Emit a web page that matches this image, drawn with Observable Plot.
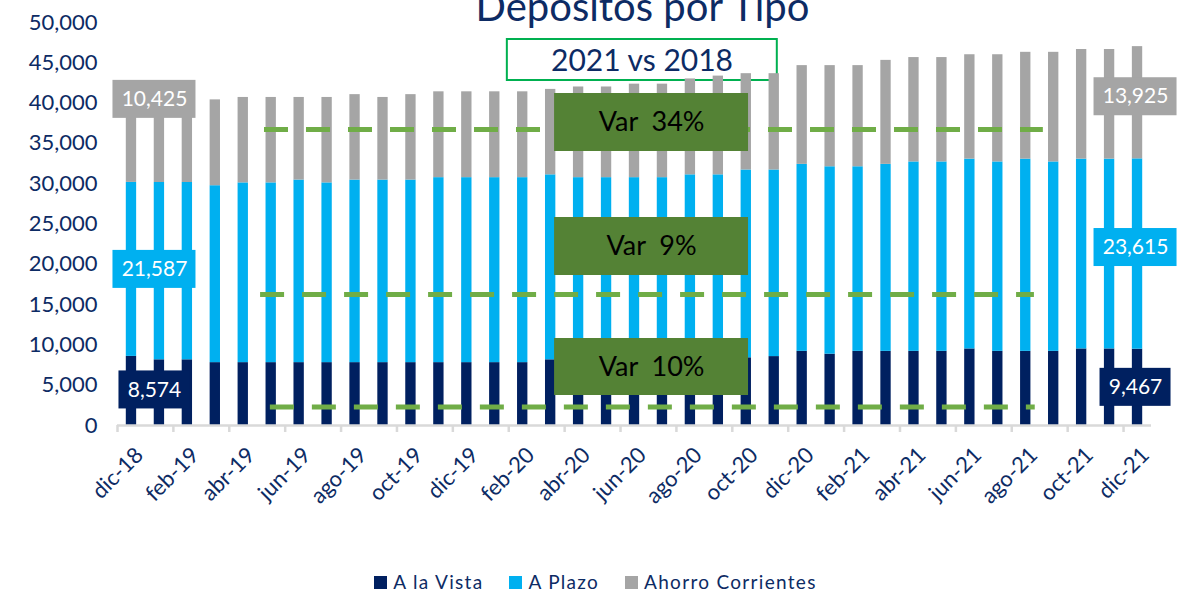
<!DOCTYPE html>
<html><head><meta charset="utf-8">
<script src="https://cdn.jsdelivr.net/npm/d3@7"></script>
<script src="https://cdn.jsdelivr.net/npm/@observablehq/plot@0.6"></script>
<style>
body{margin:0;background:#fff;font-family:Lato,sans-serif;}
#wrap{position:relative;width:1191px;height:599px;overflow:hidden;background:#fff;}
#legend{position:absolute;left:0;top:572px;width:1191px;display:flex;justify-content:center;align-items:center;font-size:19px;letter-spacing:1.3px;color:#0D2B64;line-height:20px;}
.item{display:flex;align-items:center;margin:0 13px;}
.sw{width:13px;height:13px;margin-right:6px;}
</style></head><body><div id="wrap"></div>
<script>
const months = ["dic-18","ene-19","feb-19","mar-19","abr-19","may-19","jun-19","jul-19","ago-19","sep-19","oct-19","nov-19","dic-19","ene-20","feb-20","mar-20","abr-20","may-20","jun-20","jul-20","ago-20","sep-20","oct-20","nov-20","dic-20","ene-21","feb-21","mar-21","abr-21","may-21","jun-21","jul-21","ago-21","sep-21","oct-21","nov-21","dic-21"];
const seriesNames = ["A la Vista","A Plazo","Ahorro Corrientes"];
const aLaVista = [8574,8150,8150,7800,7800,7800,7800,7800,7800,7800,7800,7800,7800,7800,7800,8150,8150,8200,8200,8300,8300,8400,8400,8550,9200,8850,9200,9200,9200,9200,9500,9200,9200,9200,9500,9500,9467];
const aPlazo = [21587,22000,22000,21950,22300,22300,22650,22300,22650,22650,22650,22950,22950,22950,22950,22950,22600,22550,22550,22450,22800,22700,23300,23150,23200,23250,22900,23200,23500,23500,23550,23500,23850,23500,23550,23550,23615];
const ahorroCorrientes = [10425,10450,10450,10650,10600,10600,10250,10600,10600,10250,10600,10650,10650,10650,10650,10600,11250,11250,11600,11600,11900,12250,11950,11950,12250,12550,12550,12900,12950,12950,12950,13300,13250,13600,13600,13600,13925];
const yTicks = [0,5000,10000,15000,20000,25000,30000,35000,40000,45000,50000];
const variations = ["Var \u00A034%","Var \u00A09%","Var \u00A010%"];
const varLevels = [36725, 16253, 2295];
const titleText = "Depósitos por Tipo";
const subtitleText = "2021 vs 2018";

const navy = "#002060", blue = "#00B0F0", gray = "#A5A5A5";
const colors = [navy, blue, gray];
const textNavy = "#0D2B64";
const seriesValues = [aLaVista, aPlazo, ahorroCorrientes];

const rows = [];
months.forEach((m, i) => {
  let base = 0;
  seriesValues.forEach((vals, s) => {
    rows.push({i, month: m, series: seriesNames[s], y1: base, y2: base + vals[i], value: vals[i]});
    base += vals[i];
  });
});

const fmt = d3.format(",");
const last = months.length - 1;
function labelMarks(i, y, value, fill, dx, dy, w) {
  const d = [{x: i + 0.5, y, text: fmt(value)}];
  return [
    Plot.rect(d, {x1: "x", x2: "x", y1: "y", y2: "y", fill, dx, dy,
      insetLeft: -w/2, insetRight: -w/2, insetTop: -19, insetBottom: -19}),
    Plot.text(d, {x: "x", y: "y", text: "text", fill: "white", dx, dy, fontSize: 21, lineAnchor: "middle"})
  ];
}
const w5 = 83, w4 = 71;

const dashStyle = {stroke: "#70AD47", strokeWidth: 5, strokeDasharray: "24,18"};
const varBoxStyle = {fill: "#548235"};

const chart = Plot.plot({
  width: 1191, height: 560,
  marginTop: 22, marginBottom: 135, marginLeft: 117, marginRight: 40,
  style: {fontFamily: "Lato, sans-serif", fontSize: "22px", color: textNavy, background: "#fff", overflow: "visible"},
  x: {type: "linear", domain: [0, months.length]},
  y: {domain: [0, 50000]},
  color: {domain: seriesNames, range: colors},
  marks: [
    Plot.rect([0], {x1: 13.95, x2: 23.61, y1: 42804, y2: 47891, fill: "none", stroke: "#00B050", strokeWidth: 2}),
    Plot.rect(rows, {x1: "i", x2: d => d.i + 1, y1: "y1", y2: "y2", fill: "series", insetLeft: 8.8, insetRight: 8.8}),
    Plot.ruleY([0], {stroke: "#D9D9D9", strokeWidth: 2.5}),
    Plot.axisX({ticks: d3.range(0, months.length, 2), tickFormat: () => "", tickSize: 7, stroke: "#D9D9D9", strokeWidth: 2.5}),
    Plot.axisY({ticks: yTicks, tickFormat: fmt, tickSize: 0, tickPadding: 20, fontSize: 22, fill: textNavy}),
    Plot.text(d3.range(0, months.length, 2), {x: i => i + 0.5, frameAnchor: "bottom", text: i => months[i],
      rotate: -45, textAnchor: "end", lineAnchor: "middle", dx: 8, dy: 26, fontSize: 22, fill: textNavy}),
    Plot.ruleY([varLevels[0]], {x1: 5.26, x2: 33.13, ...dashStyle}),
    Plot.ruleY([varLevels[1]], {x1: 5.12, x2: 32.81, ...dashStyle}),
    Plot.ruleY([varLevels[2]], {x1: 5.47, x2: 32.84, ...dashStyle}),
    Plot.rect([0], {x1: 15.64, x2: 22.58, y1: 33995, y2: 41191, ...varBoxStyle}),
    Plot.rect([0], {x1: 15.64, x2: 22.58, y1: 18610, y2: 25806, ...varBoxStyle}),
    Plot.rect([0], {x1: 15.64, x2: 22.58, y1: 3722, y2: 10794, ...varBoxStyle}),
    Plot.text([37593, 22208, 7258], {x: 19.11, y: d => d, text: (d, k) => variations[k], fontSize: 27, fill: "#000", lineAnchor: "middle"}),
    ...labelMarks(0, aLaVista[0] + aPlazo[0] + ahorroCorrientes[0], ahorroCorrientes[0], gray, 23, 1, w5),
    ...labelMarks(0, aLaVista[0] + aPlazo[0] / 2, aPlazo[0], blue, 23, 0, w5),
    ...labelMarks(0, aLaVista[0] / 2, aLaVista[0], navy, 23, -1, w4),
    ...labelMarks(last, aLaVista[last] + aPlazo[last] + ahorroCorrientes[last] / 2, ahorroCorrientes[last], gray, -2, -6, w5),
    ...labelMarks(last, aLaVista[last] + aPlazo[last] / 2, aPlazo[last], blue, -2, -6.5, w5),
    ...labelMarks(last, aLaVista[last] / 2, aLaVista[last], navy, -2, 0, w4),
    Plot.text([titleText], {frameAnchor: "top", text: d => d, dx: 8, dy: -1.3, lineAnchor: "bottom", fontSize: 40, fill: textNavy}),
    Plot.text([subtitleText], {frameAnchor: "top", text: d => d, dx: 7.5, dy: 38.5, lineAnchor: "middle", fontSize: 30, fill: textNavy})
  ]
});

const wrap = document.getElementById("wrap");
wrap.appendChild(chart);
const legend = document.createElement("div");
legend.id = "legend";
seriesNames.forEach((n, k) => {
  const it = document.createElement("div");
  it.className = "item";
  const sw = document.createElement("span");
  sw.className = "sw";
  sw.style.background = colors[k];
  const tx = document.createElement("span");
  tx.textContent = n;
  it.appendChild(sw); it.appendChild(tx);
  legend.appendChild(it);
});
wrap.appendChild(legend);
</script>
</body></html>
